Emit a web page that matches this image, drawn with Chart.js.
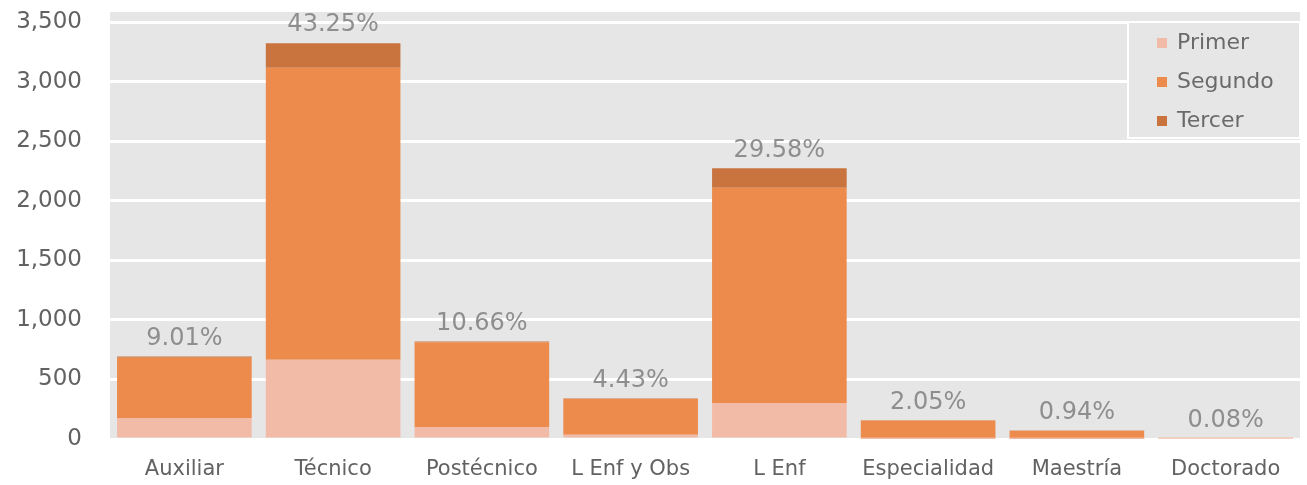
<!DOCTYPE html>
<html>
<head>
<meta charset="utf-8">
<script src="https://cdn.jsdelivr.net/npm/chart.js@4/dist/chart.umd.min.js"></script>
<style>
html,body{margin:0;padding:0;background:#ffffff;}
#wrap{width:1307px;height:485px;position:relative;}
</style>
</head>
<body>
<div id="wrap"><canvas id="c" width="1307" height="485"></canvas></div>
<script>
const categories = ["Auxiliar","Técnico","Postécnico","L Enf y Obs","L Enf","Especialidad","Maestría","Doctorado"];
const primer  = [177, 666, 100, 35, 303, 5, 2, 4];
const segundo = [505, 2450, 712, 300, 1805, 150, 68, 2];
const tercer  = [10, 206, 7, 5, 164, 2, 2, 0];
const pctLabels = ["9.01%","43.25%","10.66%","4.43%","29.58%","2.05%","0.94%","0.08%"];
const seriesNames = ["Primer","Segundo","Tercer"];
const seriesColors = ["#f2bba8","#ec8b4b","#c9743e"];

const FONT = "'DejaVu Sans', sans-serif";

const bgPlugin = {
  id: 'bg',
  beforeDraw(chart) {
    const {ctx, chartArea} = chart;
    ctx.save();
    ctx.fillStyle = '#e6e6e6';
    ctx.fillRect(chartArea.left, chartArea.top - 10, chartArea.right - chartArea.left, chartArea.bottom - chartArea.top + 10);
    ctx.restore();
  }
};

const labelPlugin = {
  id: 'pct',
  afterDatasetsDraw(chart) {
    const {ctx} = chart;
    const yScale = chart.scales.y;
    const xScale = chart.scales.x;
    ctx.save();
    ctx.font = "24px " + FONT;
    ctx.fillStyle = '#8e8e8e';
    ctx.textAlign = 'center';
    ctx.textBaseline = 'middle';
    categories.forEach((c, i) => {
      const total = primer[i] + segundo[i] + tercer[i];
      const x = xScale.getPixelForValue(i);
      const y = yScale.getPixelForValue(total) - 18;
      ctx.fillText(pctLabels[i], x, y);
    });
    ctx.restore();
  }
};

const legendPlugin = {
  id: 'customLegend',
  afterDraw(chart) {
    const {ctx, chartArea} = chart;
    const boxL = chartArea.right - 172, boxT = chartArea.top, boxR = chartArea.right, boxB = chartArea.top + 116;
    ctx.save();
    ctx.fillStyle = '#e6e6e6';
    ctx.fillRect(boxL, boxT, boxR - boxL, boxB - boxT);
    ctx.strokeStyle = '#ffffff';
    ctx.lineWidth = 2;
    ctx.strokeRect(boxL, boxT, boxR - boxL, boxB - boxT);
    ctx.font = "22px " + FONT;
    ctx.textBaseline = 'middle';
    seriesNames.forEach((n, i) => {
      const y = boxT + 21 + i * 39;
      ctx.fillStyle = seriesColors[i];
      ctx.fillRect(boxL + 29, y - 5, 10, 10);
      ctx.fillStyle = '#6a6a6a';
      ctx.textAlign = 'left';
      ctx.fillText(n, boxL + 49, y);
    });
    ctx.restore();
  }
};

new Chart(document.getElementById('c'), {
  type: 'bar',
  data: {
    labels: categories,
    datasets: [
      {label: seriesNames[0], data: primer, backgroundColor: seriesColors[0]},
      {label: seriesNames[1], data: segundo, backgroundColor: seriesColors[1]},
      {label: seriesNames[2], data: tercer, backgroundColor: seriesColors[2]}
    ]
  },
  options: {
    responsive: false,
    animation: false,
    layout: {padding: {top: 22, right: 7, bottom: 0, left: 0}},
    datasets: {bar: {barPercentage: 0.905, categoryPercentage: 1.0, borderWidth: 0}},
    plugins: {
      legend: {display: false},
      tooltip: {enabled: false}
    },
    scales: {
      x: {
        stacked: true,
        afterFit(scale) { scale.height = 46; scale.paddingLeft = 0; scale.paddingRight = 0; },
        grid: {display: false},
        border: {display: false},
        ticks: {color: '#626262', font: {family: FONT, size: 21}, padding: 10}
      },
      y: {
        stacked: true,
        min: 0, max: 3500,
        afterFit(scale) { scale.width = 110; scale.paddingTop = 0; scale.paddingBottom = 0; },
        grid: {color: '#ffffff', lineWidth: 3, drawTicks: false},
        border: {display: false},
        ticks: {
          stepSize: 500,
          color: '#626262',
          font: {family: FONT, size: 23},
          padding: 28,
          callback: v => v.toLocaleString('en-US')
        }
      }
    }
  },
  plugins: [bgPlugin, labelPlugin, legendPlugin]
});
</script>
</body>
</html>
